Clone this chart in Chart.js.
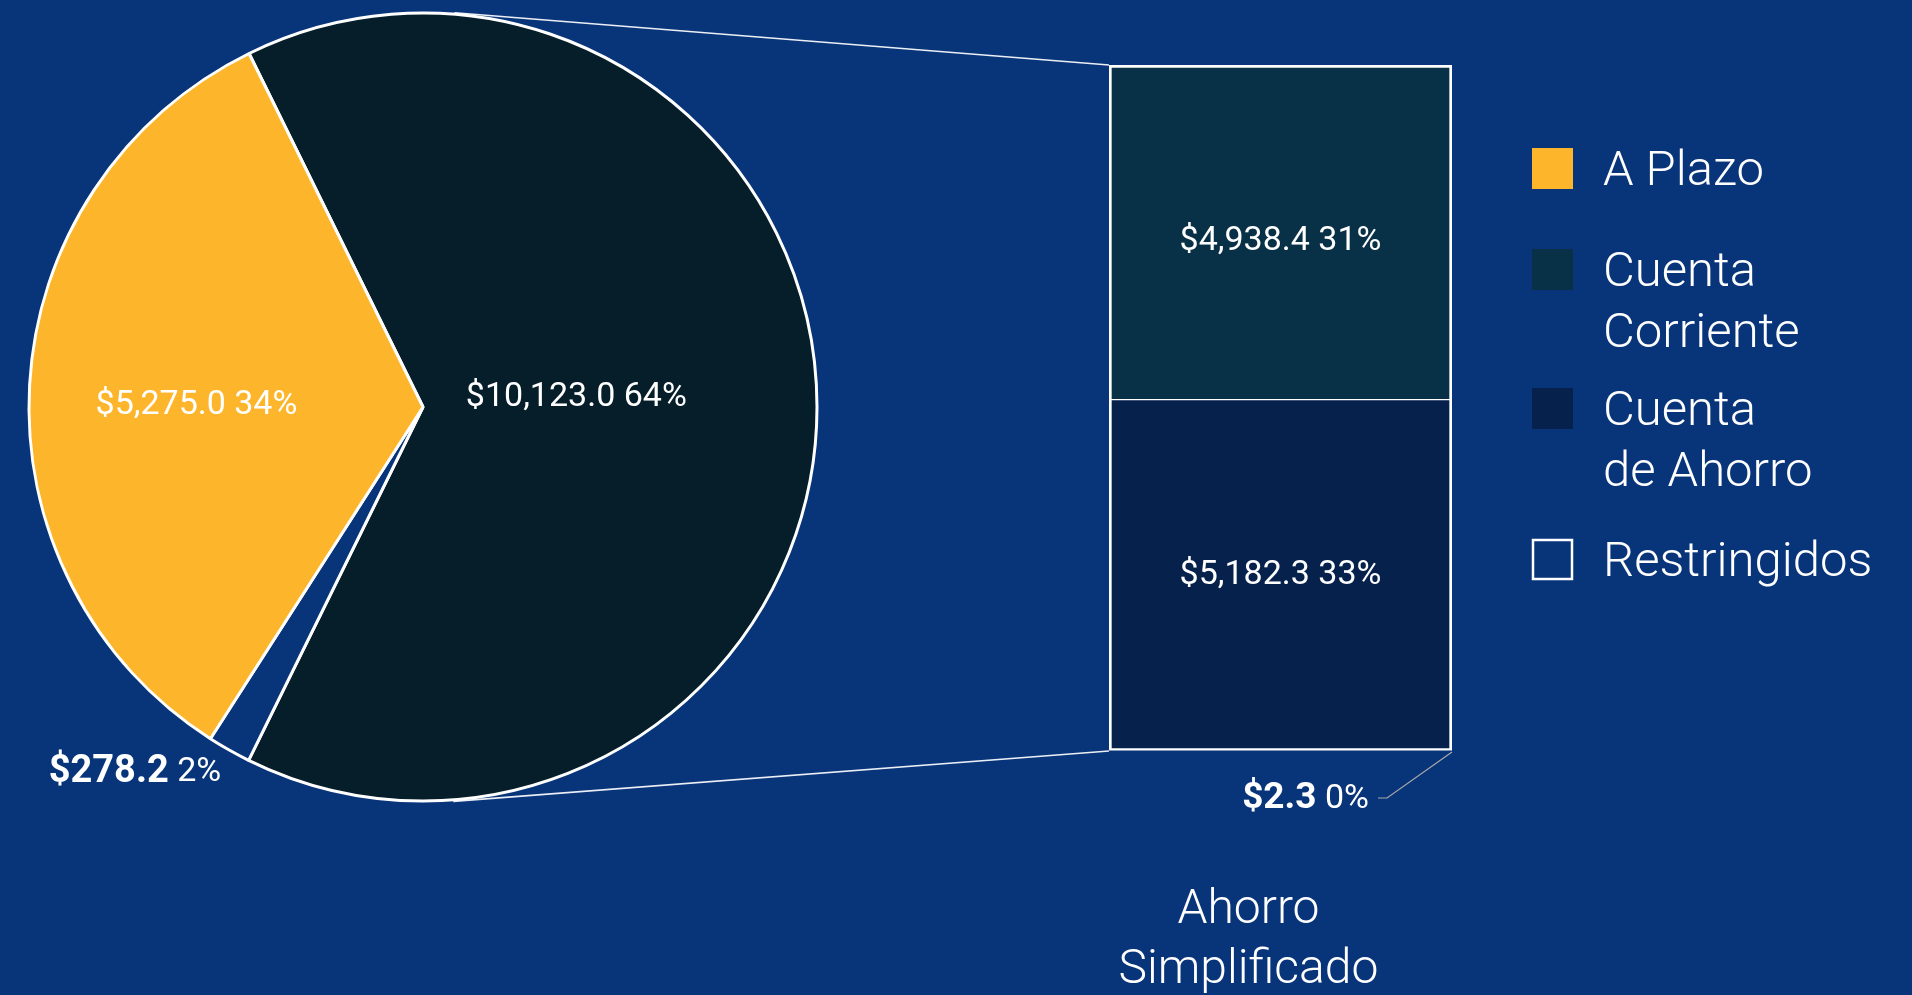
<!DOCTYPE html>
<html><head><meta charset="utf-8">
<script src="https://cdn.jsdelivr.net/npm/chart.js@4.4.1/dist/chart.umd.min.js"></script>
<style>
html,body{margin:0;padding:0;background:#08357a;overflow:hidden}
#wrap{position:relative;width:1912px;height:995px}
canvas{position:absolute;left:0;top:0}
</style></head><body>
<div id="wrap"><canvas id="pie" width="1912" height="995"></canvas><canvas id="bar" width="1912" height="995"></canvas></div>
<script>
// ---- data ----
const pieCategories = ['Ahorro Simplificado', 'Restringidos', 'A Plazo'];
const pieValues = [10123.0, 278.2, 5275.0];
const piePercents = ['64%', '2%', '34%'];
const barCategory = ['Ahorro', 'Simplificado'];
const barSeries = ['Restringidos', 'Cuenta de Ahorro', 'Cuenta Corriente'];
const barValues = [2.3, 5182.3, 4938.4];
const barPercents = ['0%', '33%', '31%'];
const legendLabels = [['A Plazo'], ['Cuenta', 'Corriente'], ['Cuenta', 'de Ahorro'], ['Restringidos']];

// ---- styles ----
const BG = '#08357a';
const pieColors = ['#061e2a', BG, '#fdb52b'];
const barColors = [BG, '#05214c', '#083046'];
const legendColors = ['#fdb52b', '#083046', '#05214c', BG];
const legendOutline = [false, false, false, true];
const legendTops = [148, 249, 388, 539];
const FONT = 'Roboto, "Liberation Sans", sans-serif';

function money(v) {
  return '$' + v.toLocaleString('en-US', {minimumFractionDigits: 1, maximumFractionDigits: 1});
}

function drawSplit(ctx, boldText, normText, x, y, align, boldSize) {
  ctx.save();
  ctx.textBaseline = 'middle';
  ctx.fillStyle = '#fff';
  ctx.font = 'bold ' + boldSize + 'px ' + FONT;
  const wb = ctx.measureText(boldText).width;
  ctx.font = '34px ' + FONT;
  const wn = ctx.measureText(' ' + normText).width;
  const total = wb + wn;
  let sx = align === 'right' ? x - total : (align === 'center' ? x - total / 2 : x);
  ctx.textAlign = 'left';
  ctx.font = 'bold ' + boldSize + 'px ' + FONT;
  ctx.fillText(boldText, sx, y);
  ctx.font = '34px ' + FONT;
  ctx.fillText(' ' + normText, sx + wb, y);
  ctx.restore();
}

// pie labels
const pieLabelPlace = [
  {r: 0.39, shift: -0.065},
  {outside: true},
  {r: 0.575, shift: -0.05}
];
const pieLabelPlugin = {
  id: 'pieLabels',
  afterDatasetsDraw(chart) {
    const ctx = chart.ctx;
    const meta = chart.getDatasetMeta(0);
    meta.data.forEach((arc, i) => {
      const p = arc.getProps(['x', 'y', 'startAngle', 'endAngle', 'outerRadius'], true);
      const mid = (p.startAngle + p.endAngle) / 2;
      const pl = pieLabelPlace[i];
      if (pl.outside) {
        const ex = p.x + p.outerRadius * Math.cos(mid);
        const ey = p.y + p.outerRadius * Math.sin(mid);
        drawSplit(ctx, money(pieValues[i]), piePercents[i], ex - 8, ey + 22, 'right', 38);
      } else {
        const a = mid + pl.shift;
        const lx = p.x + p.outerRadius * pl.r * Math.cos(a);
        const ly = p.y + p.outerRadius * pl.r * Math.sin(a);
        ctx.save();
        ctx.fillStyle = '#fff';
        ctx.font = '34px ' + FONT;
        ctx.textAlign = 'center';
        ctx.textBaseline = 'middle';
        ctx.fillText(money(pieValues[i]) + ' ' + piePercents[i], lx, ly);
        ctx.restore();
      }
    });
  }
};

const pieChart = new Chart(document.getElementById('pie'), {
  type: 'pie',
  data: {
    labels: pieCategories,
    datasets: [{data: pieValues, backgroundColor: pieColors, borderColor: '#ffffff', borderWidth: 3}]
  },
  options: {
    responsive: false,
    animation: false,
    radius: 394,
    rotation: -26.2,
    layout: {padding: {left: 0, top: 0, right: 1066, bottom: 181}},
    plugins: {legend: {display: false}, tooltip: {enabled: false}}
  },
  plugins: [pieLabelPlugin]
});

const barLabelShift = [0, 0, 9];
const overlayPlugin = {
  id: 'overlay',
  afterDraw(chart) {
    const ctx = chart.ctx;
    // connector lines (tangents to pie)
    const arc = pieChart.getDatasetMeta(0).data[0];
    const c = arc.getProps(['x', 'y', 'outerRadius'], true);
    const topBar = chart.getDatasetMeta(2).data[0];
    const botBar = chart.getDatasetMeta(0).data[0];
    const left = topBar.x - topBar.width / 2;
    const right = topBar.x + topBar.width / 2;
    const topY = topBar.y;
    const botY = botBar.base;
    const R = c.outerRadius + 1.5;
    ctx.save();
    ctx.strokeStyle = 'rgba(255,255,255,0.92)';
    ctx.lineWidth = 1.6;
    [[left, topY, -1], [left, botY, 1]].forEach(([px, py, sgn]) => {
      const dx = px - c.x, dy = py - c.y;
      const d = Math.hypot(dx, dy);
      const th = Math.atan2(dy, dx);
      const al = Math.acos(R / d);
      const t = th + sgn * al;
      ctx.beginPath();
      ctx.moveTo(c.x + R * Math.cos(t), c.y + R * Math.sin(t));
      ctx.lineTo(px, py);
      ctx.stroke();
    });
    ctx.restore();

    // bar labels
    [1, 2].forEach(i => {
      const el = chart.getDatasetMeta(i).data[0];
      ctx.save();
      ctx.fillStyle = '#fff';
      ctx.font = '34px ' + FONT;
      ctx.textAlign = 'center';
      ctx.textBaseline = 'middle';
      ctx.fillText(money(barValues[i]) + ' ' + barPercents[i], el.x, (el.y + el.base) / 2 + barLabelShift[i]);
      ctx.restore();
    });
    // small segment label with leader
    ctx.save();
    ctx.strokeStyle = '#a9a9a9';
    ctx.lineWidth = 1.2;
    ctx.beginPath();
    ctx.moveTo(right, botY + 1);
    ctx.lineTo(right - 65, botY + 47);
    ctx.lineTo(right - 74, botY + 47);
    ctx.stroke();
    ctx.restore();
    drawSplit(ctx, money(barValues[0]), barPercents[0], right - 83, botY + 48, 'right', 37);

    // category label
    ctx.save();
    ctx.fillStyle = '#fff';
    ctx.font = '300 48px ' + FONT;
    ctx.textAlign = 'center';
    ctx.textBaseline = 'alphabetic';
    barCategory.forEach((t, k) => ctx.fillText(t, topBar.x - 32, botY + 172 + k * 60));
    ctx.restore();

    // legend
    ctx.save();
    legendLabels.forEach((lines, i) => {
      const y0 = legendTops[i];
      ctx.fillStyle = legendColors[i];
      ctx.fillRect(1532, y0, 41, 41);
      if (legendOutline[i]) {
        ctx.strokeStyle = '#fff';
        ctx.lineWidth = 2.5;
        ctx.strokeRect(1533, y0 + 1, 39, 39);
      }
      ctx.fillStyle = '#fff';
      ctx.font = '300 49px ' + FONT;
      ctx.textAlign = 'left';
      ctx.textBaseline = 'alphabetic';
      lines.forEach((t, k) => ctx.fillText(t, 1603, y0 + 37 + k * 61));
    });
    ctx.restore();
  }
};

const total = barValues.reduce((a, b) => a + b, 0);
const barBorders = [
  0,
  {top: 1, left: 3, right: 3, bottom: 3},
  {top: 3, left: 3, right: 3, bottom: 1}
];
new Chart(document.getElementById('bar'), {
  type: 'bar',
  data: {
    labels: [barCategory.join(' ')],
    datasets: barSeries.map((s, i) => ({
      label: s,
      data: [barValues[i]],
      backgroundColor: barColors[i],
      borderColor: '#ffffff',
      borderWidth: barBorders[i],
      borderSkipped: false,
      barPercentage: 1,
      categoryPercentage: 1
    }))
  },
  options: {
    responsive: false,
    animation: false,
    layout: {padding: {left: 1109, right: 460, top: 65, bottom: 244}},
    scales: {
      x: {stacked: true, display: false},
      y: {stacked: true, display: false, min: 0, max: total}
    },
    plugins: {legend: {display: false}, tooltip: {enabled: false}}
  },
  plugins: [overlayPlugin]
});
</script>
</body></html>
